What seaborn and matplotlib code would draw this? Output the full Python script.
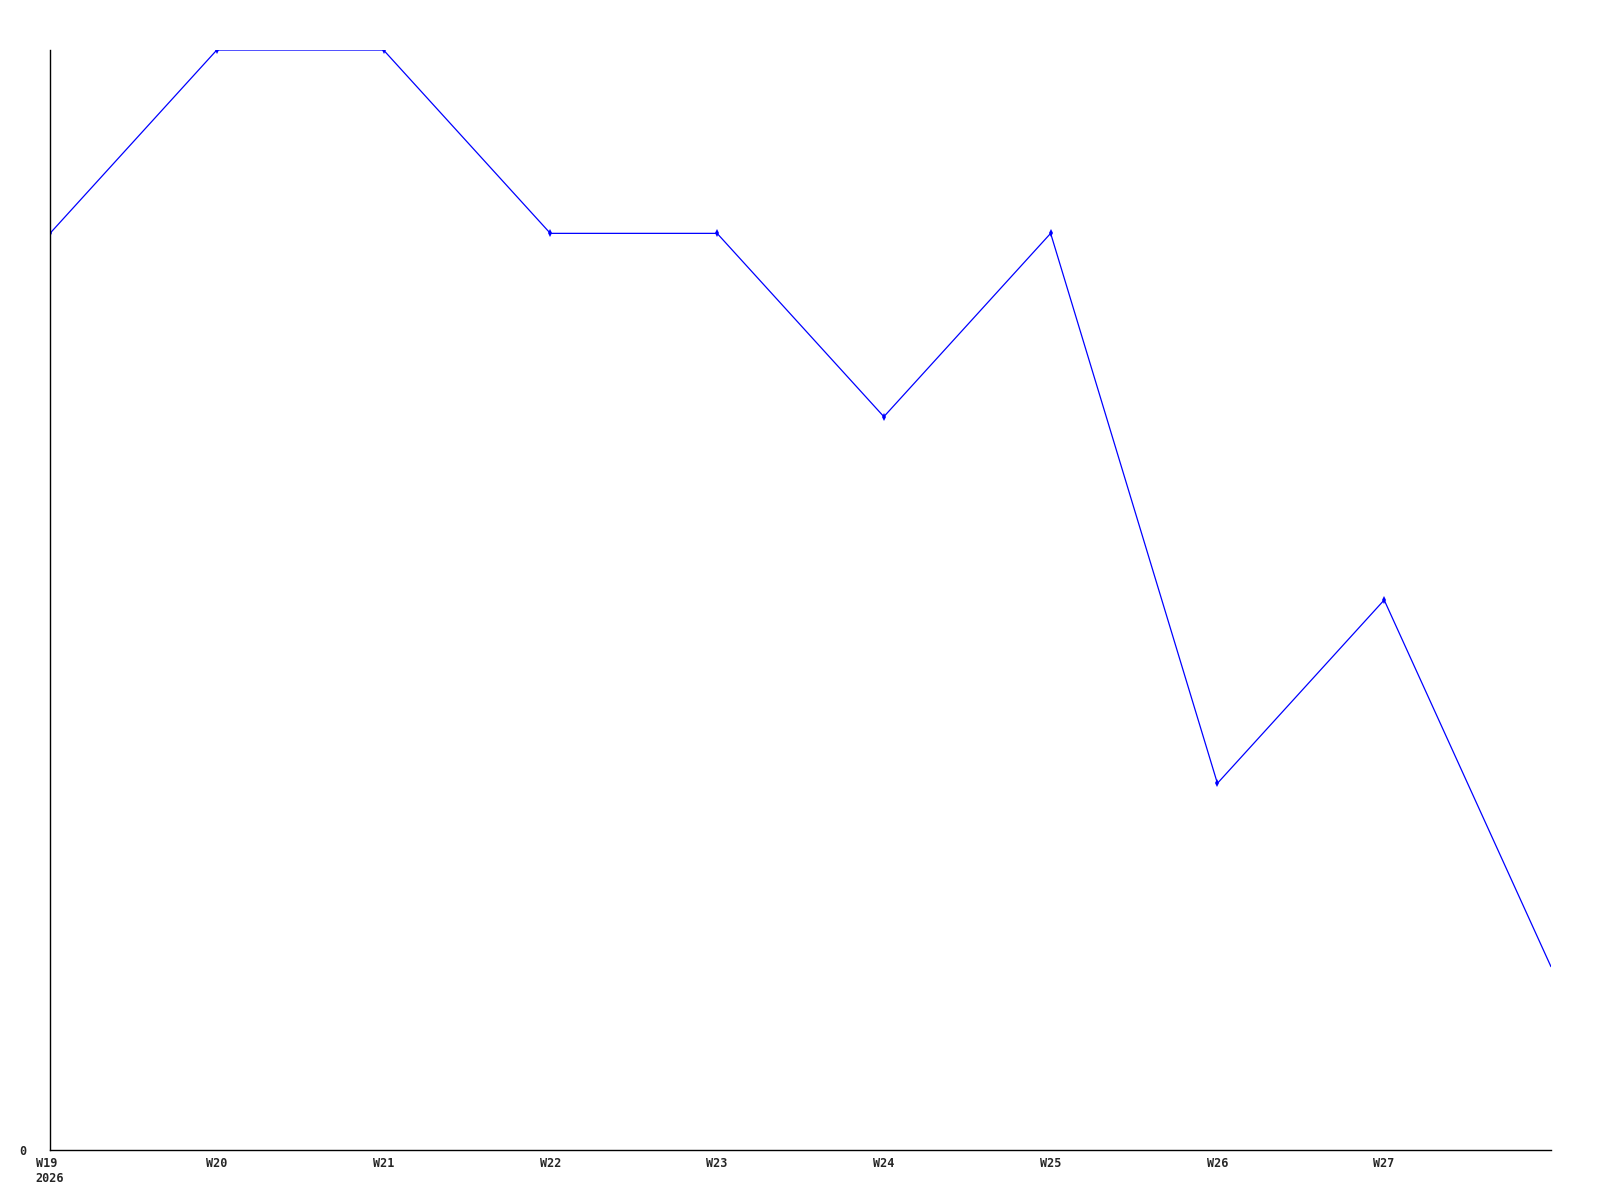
import pandas as pd
import seaborn as sns
import matplotlib.pyplot as plt

# Données hebdomadaires (semaine -> valeur)
weeks = ["W19", "W20", "W21", "W22", "W23", "W24", "W25", "W26", "W27", "W28"]
values = [5, 6, 6, 5, 5, 4, 5, 2, 3, 1]
tick_labels = ["W19\n2026", "W20", "W21", "W22", "W23", "W24", "W25", "W26", "W27"]

data = pd.DataFrame({"idx": range(len(weeks)), "week": weeks, "value": values})

sns.set_style("white")
plt.rcParams['font.family'] = ['DejaVu Sans Mono']
plt.rcParams['font.weight'] = 'bold'

fig = plt.figure(figsize=(16, 12), dpi=100)
ax = fig.add_axes([0.03125, 0.0417, 0.9381, 0.9166])

sns.lineplot(data=data, x="idx", y="value", ax=ax, color="#0000ff",
             linewidth=0.9, marker="d", markersize=4, markeredgewidth=0,
             markevery=list(range(len(weeks) - 1)))

ax.set_xlim(0, len(weeks) - 1)
ax.set_ylim(0, 6)
ax.set_xticks(range(len(tick_labels)))
ax.set_xticklabels(tick_labels, fontsize=8.5, fontweight='bold',
                   multialignment='left', linespacing=1.25)
ax.set_yticks([0])
ax.set_yticklabels(["0"], fontsize=8.5, fontweight='bold')
ax.tick_params(length=0)
ax.tick_params(axis='y', pad=17)
ax.tick_params(axis='x', pad=5)
ax.set_xlabel("")
ax.set_ylabel("")

for s in ["top", "right"]:
    ax.spines[s].set_visible(False)
for s in ["left", "bottom"]:
    ax.spines[s].set_color("black")
    ax.spines[s].set_linewidth(1)

fig.savefig("out.png", dpi=100, facecolor="white")
